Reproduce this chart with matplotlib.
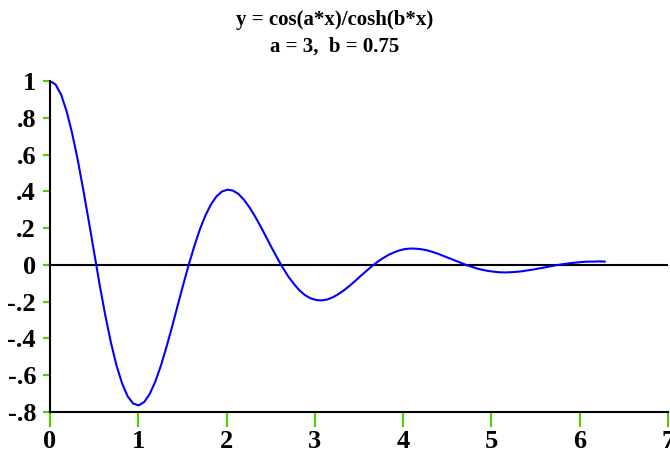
import matplotlib
matplotlib.use("Agg")
import matplotlib.pyplot as plt

# valeurs (x de 0 a 2*pi, pas ~0.063)
X = [0.000, 0.063, 0.126, 0.188, 0.251, 0.314, 0.377, 0.440, 0.503, 0.565,
     0.628, 0.691, 0.754, 0.817, 0.880, 0.942, 1.005, 1.068, 1.131, 1.194,
     1.257, 1.319, 1.382, 1.445, 1.508, 1.571, 1.634, 1.696, 1.759, 1.822,
     1.885, 1.948, 2.011, 2.073, 2.136, 2.199, 2.262, 2.325, 2.388, 2.450,
     2.513, 2.576, 2.639, 2.702, 2.765, 2.827, 2.890, 2.953, 3.016, 3.079,
     3.142, 3.204, 3.267, 3.330, 3.393, 3.456, 3.519, 3.581, 3.644, 3.707,
     3.770, 3.833, 3.896, 3.958, 4.021, 4.084, 4.147, 4.210, 4.273, 4.335,
     4.398, 4.461, 4.524, 4.587, 4.650, 4.712, 4.775, 4.838, 4.901, 4.964,
     5.027, 5.089, 5.152, 5.215, 5.278, 5.341, 5.404, 5.466, 5.529, 5.592,
     5.655, 5.718, 5.781, 5.843, 5.906, 5.969, 6.032, 6.095, 6.158, 6.220,
     6.283]
Y = [1.000, 0.981, 0.926, 0.836, 0.716, 0.572, 0.409, 0.236, 0.059, -0.115,
     -0.278, -0.424, -0.548, -0.645, -0.715, -0.754, -0.764, -0.745, -0.701, -0.633,
     -0.547, -0.447, -0.338, -0.223, -0.110, 0.000, 0.101, 0.191, 0.267, 0.328,
     0.372, 0.399, 0.409, 0.404, 0.385, 0.353, 0.311, 0.262, 0.207, 0.150,
     0.092, 0.036, -0.017, -0.065, -0.105, -0.139, -0.165, -0.182, -0.191, -0.193,
     -0.188, -0.176, -0.159, -0.138, -0.114, -0.088, -0.060, -0.034, -0.008, 0.016,
     0.036, 0.054, 0.068, 0.079, 0.086, 0.089, 0.088, 0.085, 0.079, 0.070,
     0.060, 0.048, 0.036, 0.024, 0.012, 0.000, -0.010, -0.020, -0.027, -0.033,
     -0.037, -0.040, -0.041, -0.040, -0.038, -0.035, -0.030, -0.026, -0.020, -0.015,
     -0.009, -0.003, 0.002, 0.006, 0.010, 0.013, 0.016, 0.018, 0.018, 0.019,
     0.018]

xticks = [0, 1, 2, 3, 4, 5, 6, 7]
xlabels = ["0", "1", "2", "3", "4", "5", "6", "7"]
yticks = [-0.8, -0.6, -0.4, -0.2, 0, 0.2, 0.4, 0.6, 0.8, 1]
ylabels = ["-.8", "-.6", "-.4", "-.2", "0", ".2", ".4", ".6", ".8", "1"]

titre = "y = cos(a*x)/cosh(b*x)\na = 3,  b = 0.75"

plt.rcParams['font.family'] = ['Liberation Serif', 'DejaVu Serif']
plt.rcParams['font.weight'] = 'bold'

fig = plt.figure(figsize=(6.7, 4.5), dpi=100)
ax = fig.add_axes([0.0746, 0.0844, 0.9224, 0.7356])

ax.axhline(0, color='black', linewidth=1.5, zorder=1)
ax.plot(X, Y, color='#0000ff', linewidth=1.5, zorder=2)

ax.set_xlim(0, 7)
ax.set_ylim(-0.8, 1)

ax.set_xticks(xticks)
ax.set_xticklabels(xlabels)
ax.set_yticks(yticks)
ax.set_yticklabels(ylabels)
ax.tick_params(axis='x', length=11, width=1.5, color='#55cc00', pad=2,
               labelsize=19)
ax.tick_params(axis='y', length=5, width=1.5, color='#55cc00', pad=5,
               labelsize=19)
for lab in ax.get_xticklabels() + ax.get_yticklabels():
    lab.set_fontweight('bold')

ax.spines['top'].set_visible(False)
ax.spines['right'].set_visible(False)
ax.spines['left'].set_linewidth(1.5)
ax.spines['bottom'].set_linewidth(1.5)

fig.text(0.5, 0.978, titre, ha='center', va='top', fontsize=15,
         fontweight='bold', linespacing=1.45)

fig.savefig("out.png", dpi=100)
